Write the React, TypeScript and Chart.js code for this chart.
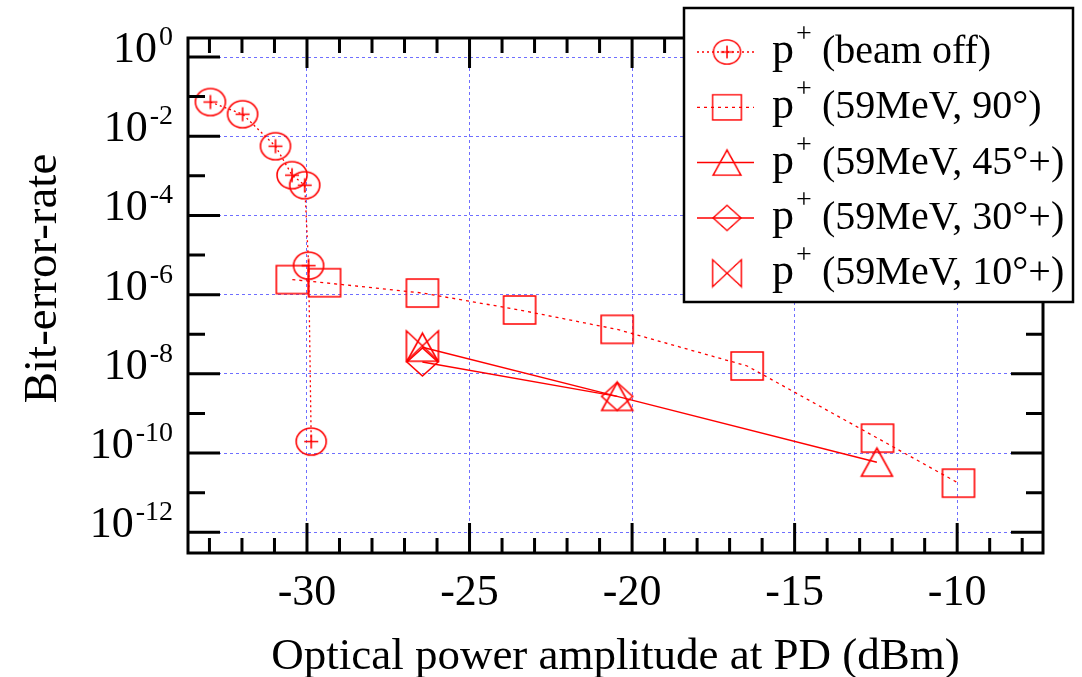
import React, { useEffect, useRef } from 'react';
import { Chart, registerables } from 'chart.js';

Chart.register(...registerables);

const RED = '#ff0000';
const GRID = 'rgba(95,95,255,0.9)';
const SERIF = '"Liberation Serif", "Times New Roman", serif';

// ---- data ----
const beamOffX = [-32.97, -31.98, -30.97, -30.46, -30.07, -29.95, -29.87];
const beamOffY = [0.073, 0.036, 0.0056, 1.04e-3, 5.8e-4, 5.4e-6, 1.95e-10];

const deg90X = [-30.45, -29.46, -26.45, -23.46, -20.46, -16.46, -12.45, -9.96];
const deg90Y = [2.4e-6, 2.0e-6, 1.1e-6, 4.1e-7, 1.33e-7, 1.58e-8, 2.38e-10, 1.74e-11];

const deg45X = [-26.45, -20.46, -12.47];
const deg45Y = [4.7e-8, 2.7e-9, 5.9e-11];

const deg30X = [-26.45, -20.46];
const deg30Y = [2.0e-8, 2.7e-9];

const deg10X = [-26.45];
const deg10Y = [5.1e-8];

const xTickValues = [-30, -25, -20, -15, -10];
const yTickExponents = [0, -2, -4, -6, -8, -10, -12];
const legendLabels = ['(beam off)', '(59MeV, 90°)', '(59MeV, 45°+)', '(59MeV, 30°+)', '(59MeV, 10°+)'];
const xTitle = 'Optical power amplitude at PD (dBm)';
const yTitle = 'Bit-error-rate';

const X_MIN = -33.66;
const X_MAX = -7.36;
const Y_MIN_EXP = -12.47;
const Y_MAX_EXP = 0.48;

const zip = (xs: number[], ys: number[]) => xs.map((x, i) => ({ x, y: ys[i] }));

function makeMarker(kind: string, w: number, h: number): HTMLCanvasElement {
  const pad = 2;
  const c = document.createElement('canvas');
  c.width = w + pad * 2;
  c.height = h + pad * 2;
  const ctx = c.getContext('2d') as CanvasRenderingContext2D;
  ctx.strokeStyle = RED;
  ctx.lineWidth = 1.6;
  ctx.translate(pad, pad);
  ctx.beginPath();
  if (kind === 'circlePlus') {
    ctx.ellipse(w / 2, h / 2, w / 2, h / 2, 0, 0, Math.PI * 2);
    ctx.moveTo(w / 2 - 7, h / 2);
    ctx.lineTo(w / 2 + 7, h / 2);
    ctx.moveTo(w / 2, h / 2 - 7);
    ctx.lineTo(w / 2, h / 2 + 7);
  } else if (kind === 'rect') {
    ctx.rect(0, 0, w, h);
  } else if (kind === 'triangle') {
    ctx.moveTo(w / 2, 0);
    ctx.lineTo(w, h);
    ctx.lineTo(0, h);
    ctx.closePath();
  } else if (kind === 'diamond') {
    ctx.moveTo(w / 2, 0);
    ctx.lineTo(w, h / 2);
    ctx.lineTo(w / 2, h);
    ctx.lineTo(0, h / 2);
    ctx.closePath();
  } else if (kind === 'bowtie') {
    ctx.moveTo(0, 0);
    ctx.lineTo(w, h);
    ctx.lineTo(w, 0);
    ctx.lineTo(0, h);
    ctx.closePath();
  }
  ctx.stroke();
  return c;
}

const framePlugin = {
  id: 'frameTicksLegend',
  afterDraw(chart: any) {
    const { ctx, chartArea } = chart;
    const xs = chart.scales.x;
    const ys = chart.scales.y;
    const { left, right, top, bottom } = chartArea;
    ctx.save();

    // frame
    ctx.strokeStyle = '#000';
    ctx.lineWidth = 3;
    ctx.setLineDash([]);
    ctx.strokeRect(left, top, right - left, bottom - top);

    // y ticks (every decade, inward on both sides)
    ctx.beginPath();
    for (let e = Math.ceil(Y_MIN_EXP); e <= Math.floor(Y_MAX_EXP); e++) {
      const py = ys.getPixelForValue(Math.pow(10, e));
      const len = e % 2 === 0 ? 32 : 17;
      ctx.moveTo(left, py);
      ctx.lineTo(left + len, py);
      ctx.moveTo(right, py);
      ctx.lineTo(right - len, py);
    }
    // x ticks (every dBm, inward on both sides)
    for (let v = Math.ceil(X_MIN); v <= Math.floor(X_MAX); v++) {
      const px = xs.getPixelForValue(v);
      const len = v % 5 === 0 ? 30 : 15;
      ctx.moveTo(px, bottom);
      ctx.lineTo(px, bottom - len);
      ctx.moveTo(px, top);
      ctx.lineTo(px, top + len);
    }
    ctx.stroke();

    // y tick labels: 10 with superscript exponent
    ctx.fillStyle = '#000';
    ctx.textBaseline = 'alphabetic';
    const labelRight = left - 15;
    yTickExponents.forEach((e) => {
      const py = ys.getPixelForValue(Math.pow(10, e));
      const expText = String(e);
      ctx.font = `28px ${SERIF}`;
      const ew = ctx.measureText(expText).width;
      ctx.textAlign = 'left';
      ctx.fillText(expText, labelRight - ew, py - 12);
      ctx.font = `44px ${SERIF}`;
      ctx.textAlign = 'right';
      ctx.fillText('10', labelRight - ew - 2, py + 5);
    });

    // y axis title
    ctx.save();
    ctx.translate(44, (top + bottom) / 2 - 17);
    ctx.rotate(-Math.PI / 2);
    ctx.font = `47px ${SERIF}`;
    ctx.textAlign = 'center';
    ctx.textBaseline = 'middle';
    ctx.fillStyle = '#000';
    ctx.fillText(yTitle, 0, 0);
    ctx.restore();

    // legend
    const L = { left: 684, top: 8, right: 1073, bottom: 302 };
    ctx.fillStyle = '#fff';
    ctx.fillRect(L.left, L.top, L.right - L.left, L.bottom - L.top);
    ctx.strokeStyle = '#000';
    ctx.lineWidth = 2.5;
    ctx.strokeRect(L.left, L.top, L.right - L.left, L.bottom - L.top);

    chart.data.datasets.forEach((ds: any, i: number) => {
      const cy = L.top + 44 + i * 55.3;
      const cx = L.left + 43;
      if (ds.showLine) {
        ctx.beginPath();
        ctx.strokeStyle = ds.borderColor;
        ctx.lineWidth = ds.borderWidth;
        ctx.setLineDash(ds.borderDash || []);
        ctx.moveTo(L.left + 13, cy);
        ctx.lineTo(L.left + 70, cy);
        ctx.stroke();
        ctx.setLineDash([]);
      }
      const img = ds.pointStyle as HTMLCanvasElement;
      const s = 0.9;
      ctx.drawImage(img, cx - (img.width * s) / 2, cy - (img.height * s) / 2, img.width * s, img.height * s);

      ctx.fillStyle = '#000';
      ctx.textAlign = 'left';
      ctx.textBaseline = 'alphabetic';
      ctx.font = `44px ${SERIF}`;
      ctx.fillText('p', L.left + 88, cy + 11);
      ctx.font = `28px ${SERIF}`;
      ctx.fillText('+', L.left + 112, cy - 10);
      ctx.font = `40px ${SERIF}`;
      ctx.fillText(ds.label, L.left + 138, cy + 11);
    });

    ctx.restore();
  },
};

export default function App() {
  const ref = useRef<HTMLCanvasElement | null>(null);

  useEffect(() => {
    if (!ref.current) return;
    const mCircle = makeMarker('circlePlus', 30, 27);
    const mRect = makeMarker('rect', 32, 28);
    const mTri = makeMarker('triangle', 31, 28);
    const mDia = makeMarker('diamond', 31, 28);
    const mBow = makeMarker('bowtie', 32, 30);

    const common = { borderColor: RED, backgroundColor: 'transparent', pointRadius: 15, fill: false, tension: 0 };

    const chart = new Chart(ref.current, {
      type: 'scatter',
      data: {
        datasets: [
          { ...common, label: legendLabels[0], data: zip(beamOffX, beamOffY), showLine: true, borderWidth: 1.3, borderDash: [2, 3], pointStyle: mCircle },
          { ...common, label: legendLabels[1], data: zip(deg90X, deg90Y), showLine: true, borderWidth: 1.3, borderDash: [3, 4], pointStyle: mRect },
          { ...common, label: legendLabels[2], data: zip(deg45X, deg45Y), showLine: true, borderWidth: 1.5, borderDash: [], pointStyle: mTri },
          { ...common, label: legendLabels[3], data: zip(deg30X, deg30Y), showLine: true, borderWidth: 1.5, borderDash: [], pointStyle: mDia },
          { ...common, label: legendLabels[4], data: zip(deg10X, deg10Y), showLine: false, borderWidth: 1.5, borderDash: [], pointStyle: mBow },
        ] as any,
      },
      options: {
        animation: false,
        responsive: true,
        maintainAspectRatio: false,
        layout: { padding: { top: 38, right: 39, left: 0, bottom: 0 } },
        plugins: { legend: { display: false }, tooltip: { enabled: false } },
        scales: {
          x: {
            type: 'linear',
            min: X_MIN,
            max: X_MAX,
            afterBuildTicks: (s: any) => {
              s.ticks = xTickValues.map((v) => ({ value: v }));
            },
            afterFit: (s: any) => {
              s.height = 124;
            },
            grid: { color: GRID, lineWidth: 1, drawTicks: false },
            border: { display: false, dash: [3, 3] },
            ticks: {
              font: { family: SERIF, size: 44 },
              color: '#000',
              padding: 14,
              maxRotation: 0,
              autoSkip: false,
              callback: (v: any) => String(v),
            },
            title: {
              display: true,
              text: xTitle,
              font: { family: SERIF, size: 45, lineHeight: 1 },
              color: '#000',
              padding: { top: 0, bottom: -3 },
            },
          },
          y: {
            type: 'logarithmic',
            min: Math.pow(10, Y_MIN_EXP),
            max: Math.pow(10, Y_MAX_EXP),
            afterBuildTicks: (s: any) => {
              s.ticks = yTickExponents.map((e) => ({ value: Math.pow(10, e) }));
            },
            afterFit: (s: any) => {
              s.width = 188;
            },
            grid: { color: GRID, lineWidth: 1, drawTicks: false },
            border: { display: false, dash: [3, 3] },
            ticks: { display: false },
            title: { display: false },
          },
        },
      } as any,
      plugins: [framePlugin],
    });
    return () => chart.destroy();
  }, []);

  return (
    <div style={{ position: 'fixed', left: 0, top: 0, width: 1082, height: 677, background: '#fff' }}>
      <canvas ref={ref} />
    </div>
  );
}
